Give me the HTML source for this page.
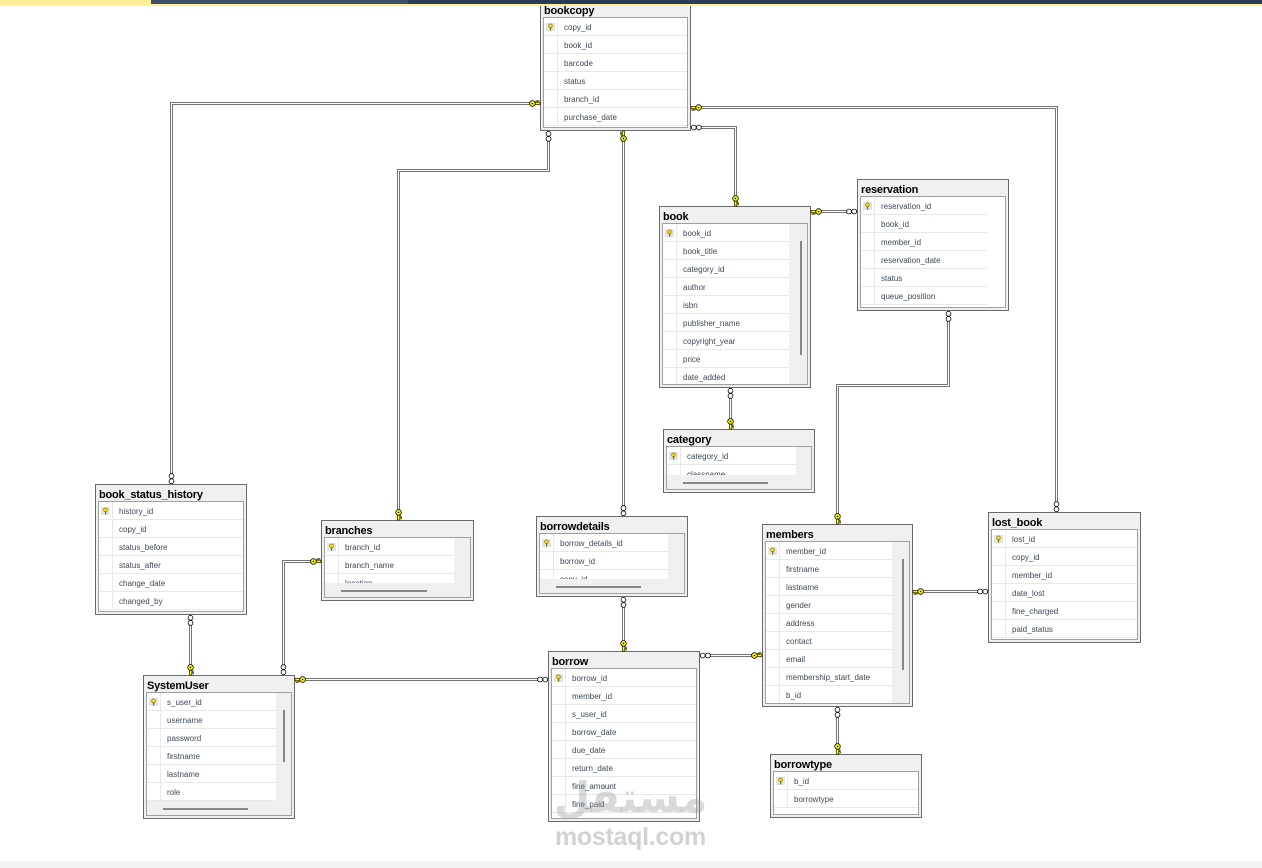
<!DOCTYPE html>
<html><head><meta charset="utf-8">
<style>
body{margin:0;width:1262px;height:868px;position:relative;overflow:hidden;background:#fff;font-family:"Liberation Sans",sans-serif}
.t{position:absolute;box-sizing:border-box;border:1px solid #6a6a6a;background:#f0f0f0}
.t .n{position:absolute;left:3px;top:4px;font:bold 11px/13px "Liberation Sans",sans-serif;letter-spacing:-0.2px;color:#000;white-space:nowrap}
.t .f{position:absolute;left:2px;top:16px;box-sizing:border-box;border:1px solid #a0a0a0;background:#fff;overflow:hidden}
.t .f.g{background:#f0f0f0}
.t .r{position:absolute;left:0;top:0;background:#fff;overflow:hidden}
.t .r div{position:relative;height:17px;border-bottom:1px solid #e8e8e8;font:8px/19px "Liberation Sans",sans-serif;color:#3c4858;padding-left:20px;white-space:nowrap;overflow:hidden}
.t .r div::before{content:"";position:absolute;left:13px;top:0;bottom:0;width:1px;background:#e8e8e8}
.ki{position:absolute;left:2px;top:5px}
.sb{position:absolute;background:#868686}
.bar{position:absolute;top:0;z-index:5}
</style></head><body>

<!-- top bar -->
<div class="bar" style="left:0;width:1262px;height:6px;background:#ffef9b"></div>
<div class="bar" style="left:151px;width:257px;height:4px;background:#3b5069"></div>
<div class="bar" style="left:408px;width:854px;height:4px;background:#2c3b55"></div>

<!-- bookcopy -->
<div class="t" style="left:540px;top:0;width:151px;height:131px">
 <div class="n">bookcopy</div>
 <div class="f" style="width:145px;height:111px">
  <div class="r" style="width:143px;height:108px">
   <div><svg class="ki" width="9" height="8"><rect width="9" height="8" fill="#e3e3e3"/><circle cx="4.5" cy="2.8" r="1.9" fill="#f5e000" stroke="#7a6a00" stroke-width=".6"/><rect x="4" y="4.3" width="1.2" height="3.2" fill="#7a6a00"/></svg>copy_id</div>
   <div>book_id</div><div>barcode</div><div>status</div><div>branch_id</div><div>purchase_date</div>
  </div>
 </div>
</div>

<!-- book -->
<div class="t" style="left:659px;top:206px;width:152px;height:182px">
 <div class="n">book</div>
 <div class="f g" style="width:146px;height:162px">
  <div class="r" style="width:126px;height:162px">
   <div><svg class="ki" width="9" height="8"><rect width="9" height="8" fill="#e3e3e3"/><circle cx="4.5" cy="2.8" r="1.9" fill="#f5e000" stroke="#7a6a00" stroke-width=".6"/><rect x="4" y="4.3" width="1.2" height="3.2" fill="#7a6a00"/></svg>book_id</div>
   <div>book_title</div><div>category_id</div><div>author</div><div>isbn</div><div>publisher_name</div><div>copyright_year</div><div>price</div><div>date_added</div>
  </div>
 </div>
 <div class="sb" style="left:140px;top:34px;width:2px;height:114px"></div>
</div>

<!-- reservation -->
<div class="t" style="left:857px;top:179px;width:152px;height:132px">
 <div class="n">reservation</div>
 <div class="f" style="width:146px;height:112px">
  <div class="r" style="width:126px;height:108px">
   <div><svg class="ki" width="9" height="8"><rect width="9" height="8" fill="#e3e3e3"/><circle cx="4.5" cy="2.8" r="1.9" fill="#f5e000" stroke="#7a6a00" stroke-width=".6"/><rect x="4" y="4.3" width="1.2" height="3.2" fill="#7a6a00"/></svg>reservation_id</div>
   <div>book_id</div><div>member_id</div><div>reservation_date</div><div>status</div><div>queue_position</div>
  </div>
 </div>
</div>

<!-- category -->
<div class="t" style="left:663px;top:429px;width:152px;height:64px">
 <div class="n">category</div>
 <div class="f g" style="width:146px;height:44px">
  <div class="r" style="width:129px;height:28px">
   <div><svg class="ki" width="9" height="8"><rect width="9" height="8" fill="#e3e3e3"/><circle cx="4.5" cy="2.8" r="1.9" fill="#f5e000" stroke="#7a6a00" stroke-width=".6"/><rect x="4" y="4.3" width="1.2" height="3.2" fill="#7a6a00"/></svg>category_id</div>
   <div>classname</div>
  </div>
 </div>
 <div class="sb" style="left:19px;top:52px;width:85px;height:2px"></div>
</div>

<!-- book_status_history -->
<div class="t" style="left:95px;top:484px;width:152px;height:131px">
 <div class="n">book_status_history</div>
 <div class="f" style="width:146px;height:111px">
  <div class="r" style="width:144px;height:108px">
   <div><svg class="ki" width="9" height="8"><rect width="9" height="8" fill="#e3e3e3"/><circle cx="4.5" cy="2.8" r="1.9" fill="#f5e000" stroke="#7a6a00" stroke-width=".6"/><rect x="4" y="4.3" width="1.2" height="3.2" fill="#7a6a00"/></svg>history_id</div>
   <div>copy_id</div><div>status_before</div><div>status_after</div><div>change_date</div><div>changed_by</div>
  </div>
 </div>
</div>

<!-- branches -->
<div class="t" style="left:321px;top:520px;width:153px;height:81px">
 <div class="n">branches</div>
 <div class="f g" style="width:147px;height:61px">
  <div class="r" style="width:129px;height:45px">
   <div><svg class="ki" width="9" height="8"><rect width="9" height="8" fill="#e3e3e3"/><circle cx="4.5" cy="2.8" r="1.9" fill="#f5e000" stroke="#7a6a00" stroke-width=".6"/><rect x="4" y="4.3" width="1.2" height="3.2" fill="#7a6a00"/></svg>branch_id</div>
   <div>branch_name</div><div>location</div>
  </div>
 </div>
 <div class="sb" style="left:19px;top:69px;width:86px;height:2px"></div>
</div>

<!-- borrowdetails -->
<div class="t" style="left:536px;top:516px;width:152px;height:81px">
 <div class="n">borrowdetails</div>
 <div class="f g" style="width:146px;height:61px">
  <div class="r" style="width:128px;height:45px">
   <div><svg class="ki" width="9" height="8"><rect width="9" height="8" fill="#e3e3e3"/><circle cx="4.5" cy="2.8" r="1.9" fill="#f5e000" stroke="#7a6a00" stroke-width=".6"/><rect x="4" y="4.3" width="1.2" height="3.2" fill="#7a6a00"/></svg>borrow_details_id</div>
   <div>borrow_id</div><div>copy_id</div>
  </div>
 </div>
 <div class="sb" style="left:19px;top:69px;width:85px;height:2px"></div>
</div>

<!-- members -->
<div class="t" style="left:762px;top:524px;width:151px;height:183px">
 <div class="n">members</div>
 <div class="f g" style="width:145px;height:163px">
  <div class="r" style="width:126px;height:162px">
   <div><svg class="ki" width="9" height="8"><rect width="9" height="8" fill="#e3e3e3"/><circle cx="4.5" cy="2.8" r="1.9" fill="#f5e000" stroke="#7a6a00" stroke-width=".6"/><rect x="4" y="4.3" width="1.2" height="3.2" fill="#7a6a00"/></svg>member_id</div>
   <div>firstname</div><div>lastname</div><div>gender</div><div>address</div><div>contact</div><div>email</div><div>membership_start_date</div><div>b_id</div>
  </div>
 </div>
 <div class="sb" style="left:139px;top:34px;width:2px;height:111px"></div>
</div>

<!-- borrow -->
<div class="t" style="left:548px;top:651px;width:152px;height:171px">
 <div class="n">borrow</div>
 <div class="f" style="width:146px;height:151px">
  <div class="r" style="width:144px;height:144px">
   <div><svg class="ki" width="9" height="8"><rect width="9" height="8" fill="#e3e3e3"/><circle cx="4.5" cy="2.8" r="1.9" fill="#f5e000" stroke="#7a6a00" stroke-width=".6"/><rect x="4" y="4.3" width="1.2" height="3.2" fill="#7a6a00"/></svg>borrow_id</div>
   <div>member_id</div><div>s_user_id</div><div>borrow_date</div><div>due_date</div><div>return_date</div><div>fine_amount</div><div>fine_paid</div>
  </div>
 </div>
</div>

<!-- SystemUser -->
<div class="t" style="left:143px;top:675px;width:152px;height:144px">
 <div class="n">SystemUser</div>
 <div class="f g" style="width:146px;height:124px">
  <div class="r" style="width:129px;height:108px">
   <div><svg class="ki" width="9" height="8"><rect width="9" height="8" fill="#e3e3e3"/><circle cx="4.5" cy="2.8" r="1.9" fill="#f5e000" stroke="#7a6a00" stroke-width=".6"/><rect x="4" y="4.3" width="1.2" height="3.2" fill="#7a6a00"/></svg>s_user_id</div>
   <div>username</div><div>password</div><div>firstname</div><div>lastname</div><div>role</div>
  </div>
 </div>
 <div class="sb" style="left:139px;top:34px;width:2px;height:52px"></div>
 <div class="sb" style="left:19px;top:132px;width:85px;height:2px"></div>
</div>

<!-- lost_book -->
<div class="t" style="left:988px;top:512px;width:153px;height:131px">
 <div class="n">lost_book</div>
 <div class="f" style="width:147px;height:111px">
  <div class="r" style="width:145px;height:108px">
   <div><svg class="ki" width="9" height="8"><rect width="9" height="8" fill="#e3e3e3"/><circle cx="4.5" cy="2.8" r="1.9" fill="#f5e000" stroke="#7a6a00" stroke-width=".6"/><rect x="4" y="4.3" width="1.2" height="3.2" fill="#7a6a00"/></svg>lost_id</div>
   <div>copy_id</div><div>member_id</div><div>date_lost</div><div>fine_charged</div><div>paid_status</div>
  </div>
 </div>
</div>

<!-- borrowtype -->
<div class="t" style="left:770px;top:754px;width:152px;height:64px">
 <div class="n">borrowtype</div>
 <div class="f" style="width:146px;height:44px">
  <div class="r" style="width:144px;height:36px">
   <div><svg class="ki" width="9" height="8"><rect width="9" height="8" fill="#e3e3e3"/><circle cx="4.5" cy="2.8" r="1.9" fill="#f5e000" stroke="#7a6a00" stroke-width=".6"/><rect x="4" y="4.3" width="1.2" height="3.2" fill="#7a6a00"/></svg>b_id</div>
   <div>borrowtype</div>
  </div>
 </div>
</div>

<!-- connectors -->
<svg style="position:absolute;left:0;top:0;z-index:3" width="1262" height="868">
<defs>
 <g id="k">
  <path d="M0,-1.2H5.5V1.2H0Z" fill="#ffff00" stroke="#000" stroke-width=".6"/>
  <path d="M1,1.2V3H2.2V1.2M3.1,1.2V2.6H4.2V1.2" fill="#ffff00" stroke="#000" stroke-width=".6"/>
  <circle cx="7.6" cy="0" r="2.8" fill="#ffff00" stroke="#000" stroke-width=".8"/>
  <circle cx="7.6" cy="0" r=".8" fill="#000"/>
 </g>
 <g id="m">
  <circle cx="2.8" cy="0" r="2.4" fill="#fff" stroke="#000" stroke-width=".8"/>
  <circle cx="7.9" cy="0" r="2.4" fill="#fff" stroke="#000" stroke-width=".8"/>
 </g>
</defs>
<g fill="none" stroke="#747474" stroke-width="3">
 <path d="M540,103.5H171.5V484"/>
 <path d="M548.5,131V170.5H398.5V520"/>
 <path d="M623.5,131V516"/>
 <path d="M691,107.5H1056.5V512"/>
 <path d="M691,127.5H735.5V206"/>
 <path d="M811,211.5H857"/>
 <path d="M948.5,311V385.5H837.5V524"/>
 <path d="M730.5,388V429"/>
 <path d="M190.5,615V675"/>
 <path d="M321,561.5H283.5V675"/>
 <path d="M295,679.5H548"/>
 <path d="M623.5,597V651"/>
 <path d="M700,655.5H762"/>
 <path d="M913,591.5H988"/>
 <path d="M837.5,707V754"/>
</g>
<g fill="none" stroke="#fff" stroke-width="1">
 <path d="M540,103.5H171.5V484"/>
 <path d="M548.5,131V170.5H398.5V520"/>
 <path d="M623.5,131V516"/>
 <path d="M691,107.5H1056.5V512"/>
 <path d="M691,127.5H735.5V206"/>
 <path d="M811,211.5H857"/>
 <path d="M948.5,311V385.5H837.5V524"/>
 <path d="M730.5,388V429"/>
 <path d="M190.5,615V675"/>
 <path d="M321,561.5H283.5V675"/>
 <path d="M295,679.5H548"/>
 <path d="M623.5,597V651"/>
 <path d="M700,655.5H762"/>
 <path d="M913,591.5H988"/>
 <path d="M837.5,707V754"/>
</g>
<use href="#k" transform="translate(540,103.5) rotate(180)"/>
<use href="#m" transform="translate(171.5,484) rotate(-90)"/>
<use href="#m" transform="translate(548.5,131) rotate(90)"/>
<use href="#k" transform="translate(398.5,520) rotate(-90)"/>
<use href="#k" transform="translate(623.5,131) rotate(90)"/>
<use href="#m" transform="translate(623.5,516) rotate(-90)"/>
<use href="#k" transform="translate(691,107.5)"/>
<use href="#m" transform="translate(1056.5,512) rotate(-90)"/>
<use href="#m" transform="translate(691,127.5)"/>
<use href="#k" transform="translate(735.5,206) rotate(-90)"/>
<use href="#k" transform="translate(811,211.5)"/>
<use href="#m" transform="translate(857,211.5) rotate(180)"/>
<use href="#m" transform="translate(948.5,311) rotate(90)"/>
<use href="#k" transform="translate(837.5,524) rotate(-90)"/>
<use href="#m" transform="translate(730.5,388) rotate(90)"/>
<use href="#k" transform="translate(730.5,429) rotate(-90)"/>
<use href="#m" transform="translate(190.5,615) rotate(90)"/>
<use href="#k" transform="translate(190.5,675) rotate(-90)"/>
<use href="#k" transform="translate(321,561.5) rotate(180)"/>
<use href="#m" transform="translate(283.5,675) rotate(-90)"/>
<use href="#k" transform="translate(295,679.5)"/>
<use href="#m" transform="translate(548,679.5) rotate(180)"/>
<use href="#m" transform="translate(623.5,597) rotate(90)"/>
<use href="#k" transform="translate(623.5,651) rotate(-90)"/>
<use href="#m" transform="translate(700,655.5)"/>
<use href="#k" transform="translate(762,655.5) rotate(180)"/>
<use href="#k" transform="translate(913,591.5)"/>
<use href="#m" transform="translate(988,591.5) rotate(180)"/>
<use href="#m" transform="translate(837.5,707) rotate(90)"/>
<use href="#k" transform="translate(837.5,754) rotate(-90)"/>
</svg>

<!-- watermark -->
<div style="position:absolute;left:548px;top:772px;width:165px;text-align:center;font:bold 42px/52px 'DejaVu Sans',sans-serif;color:rgba(150,150,150,0.36);z-index:4;white-space:nowrap">مستقل</div>
<div style="position:absolute;left:555px;top:825px;font:bold 25px/25px 'Liberation Sans',sans-serif;letter-spacing:-0.3px;color:rgba(165,165,165,0.5);z-index:4;white-space:nowrap">mostaql.com</div>

<!-- bottom band -->
<div style="position:absolute;left:0;top:861px;width:1262px;height:7px;background:#f3f3f3"></div>
</body></html>
